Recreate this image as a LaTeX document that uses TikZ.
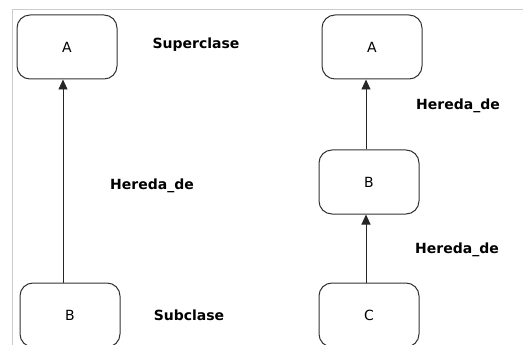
\documentclass[tikz,border=0pt]{standalone}
\usepackage{fontspec}
\setmainfont{DejaVu Sans}
\usetikzlibrary{arrows.meta}
\begin{document}
\begin{tikzpicture}[x=1pt,y=-1pt,
  cls/.style={draw=black!80,line width=1pt,rounded corners=13pt,minimum width=100pt,minimum height=64pt,inner sep=0pt,font=\fontsize{14}{16}\selectfont},
  lbl/.style={font=\bfseries\fontsize{14}{16}\selectfont,inner sep=0pt},
  inh/.style={draw=black!85,line width=0.9pt,-{Triangle[length=10pt,width=9pt]}}]
\useasboundingbox (0,0) rectangle (523,345);
\clip (0,0) rectangle (523,345);
\draw[black!20,line width=0.8pt] (12,345) -- (12,9) -- (523,9);
% left
\node[cls] (a1) at (67,47) {A};
\node[cls] (b1) at (70,315) {B};
\draw[inh] (b1.north -| 63,0) -- (a1.south -| 63,0);
\node[lbl] (s1) at (196,45) {Superclase};
\node[lbl] (h1) at (152,186) {Hereda\_de};
\node[lbl] (s2) at (189,315) {Subclase};
% right
\node[cls] (a2) at (372,47) {A};
\node[cls] (b2) at (369,182) {B};
\node[cls] (c2) at (369,315) {C};
\draw[inh] (b2.north -| 366,0) -- (a2.south -| 366,0);
\draw[inh] (c2.north -| 366,0) -- (b2.south -| 366,0);
\node[lbl] (h2) at (458,106) {Hereda\_de};
\node[lbl] (h3) at (457,250) {Hereda\_de};
\end{tikzpicture}
\end{document}
